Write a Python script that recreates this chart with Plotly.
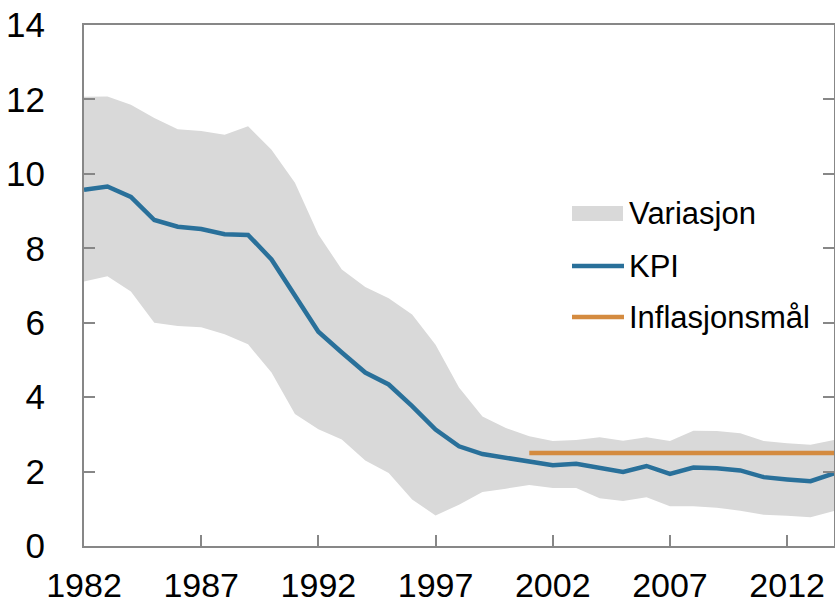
import plotly.graph_objects as go

years = list(range(1982, 2015))
kpi = [9.57, 9.66, 9.38, 8.76, 8.58, 8.52, 8.38, 8.36, 7.70, 6.72, 5.76, 5.20, 4.66, 4.34, 3.76,
       3.13, 2.68, 2.47, 2.36, 2.28, 2.17, 2.21, 2.09, 1.99, 2.15, 1.94, 2.11, 2.09, 2.03, 1.85,
       1.79, 1.74, 1.95]
upper = [12.07, 12.08, 11.86, 11.50, 11.20, 11.15, 11.05, 11.28, 10.65, 9.76, 8.37, 7.43, 6.96,
         6.66, 6.22, 5.41, 4.26, 3.48, 3.17, 2.95, 2.82, 2.85, 2.92, 2.83, 2.92, 2.82, 3.10, 3.09,
         3.03, 2.82, 2.76, 2.72, 2.85]
lower = [7.11, 7.25, 6.84, 6.00, 5.91, 5.88, 5.69, 5.42, 4.66, 3.55, 3.14, 2.86, 2.30, 1.96, 1.25,
         0.82, 1.11, 1.45, 1.54, 1.64, 1.56, 1.56, 1.28, 1.21, 1.31, 1.07, 1.07, 1.03, 0.95, 0.84,
         0.81, 0.77, 0.94]
target_years = list(range(2001, 2015))
target = [2.5] * len(target_years)

names = ["Variasjon", "KPI", "Inflasjonsmål"]
x_ticks = [1982, 1987, 1992, 1997, 2002, 2007, 2012]
y_ticks = [0, 2, 4, 6, 8, 10, 12, 14]

BAND = "#D9D9D9"
BLUE = "#29709A"
ORANGE = "#D48B40"
AXIS = "#878787"
FONT = "Liberation Sans, Arial, sans-serif"

fig = go.Figure()
fig.add_trace(go.Scatter(x=years, y=lower, mode="lines", line=dict(width=0, color=BAND),
                         hoverinfo="skip", showlegend=False))
fig.add_trace(go.Scatter(x=years, y=upper, mode="lines", line=dict(width=0, color=BAND),
                         fill="tonexty", fillcolor=BAND, name=names[0], showlegend=False))
fig.add_trace(go.Scatter(x=target_years, y=target, mode="lines",
                         line=dict(width=4.5, color=ORANGE), name=names[2], showlegend=False))
fig.add_trace(go.Scatter(x=years, y=kpi, mode="lines",
                         line=dict(width=4.5, color=BLUE), name=names[1], showlegend=False))

# plot area in pixels
L, R, T, B = 84, 834, 25, 546
def px(x):
    return (x - L) / (R - L)
def py(y):
    return (B - y) / (B - T)

shapes = [
    dict(type="rect", xref="paper", yref="paper", x0=px(572), x1=px(623), y0=py(221), y1=py(206),
         fillcolor=BAND, line=dict(width=0)),
    dict(type="line", xref="paper", yref="paper", x0=px(572), x1=px(624), y0=py(266), y1=py(266),
         line=dict(color=BLUE, width=4.5)),
    dict(type="line", xref="paper", yref="paper", x0=px(572), x1=px(624), y0=py(317), y1=py(317),
         line=dict(color=ORANGE, width=4.5)),
]
annotations = []
for name, yy in zip(names, [213, 266, 317]):
    annotations.append(dict(text=name, xref="paper", yref="paper", x=px(627), y=py(yy),
                            xanchor="left", yanchor="middle", showarrow=False,
                            font=dict(family=FONT, size=31, color="#000000")))

fig.update_layout(
    width=835, height=605, autosize=False,
    margin=dict(l=L, r=835 - R, t=T, b=605 - B, pad=0),
    paper_bgcolor="white", plot_bgcolor="white",
    font=dict(family=FONT, size=34, color="#000000"),
    shapes=shapes, annotations=annotations,
    showlegend=False,
)
fig.update_xaxes(range=[1982, 2014], tickvals=x_ticks, ticktext=[str(v) for v in x_ticks],
                 automargin=False,
                 showgrid=False, zeroline=False, showline=True, linecolor=AXIS, linewidth=2,
                 mirror=True, ticks="inside", ticklen=11, tickwidth=2, tickcolor=AXIS,
                 ticklabelstandoff=8, tickfont=dict(family=FONT, size=34, color="#000000"))
fig.update_yaxes(range=[0, 14], tickvals=y_ticks, ticktext=[str(v) for v in y_ticks],
                 automargin=False,
                 showgrid=False, zeroline=False, showline=True, linecolor=AXIS, linewidth=2,
                 mirror="ticks", ticks="inside", ticklen=11, tickwidth=2, tickcolor=AXIS,
                 ticklabelstandoff=30, tickfont=dict(family=FONT, size=35, color="#000000"))

fig.write_html("out.html", config={"displayModeBar": False},
               post_script="document.body.style.margin='0';document.body.style.overflow='hidden';")
